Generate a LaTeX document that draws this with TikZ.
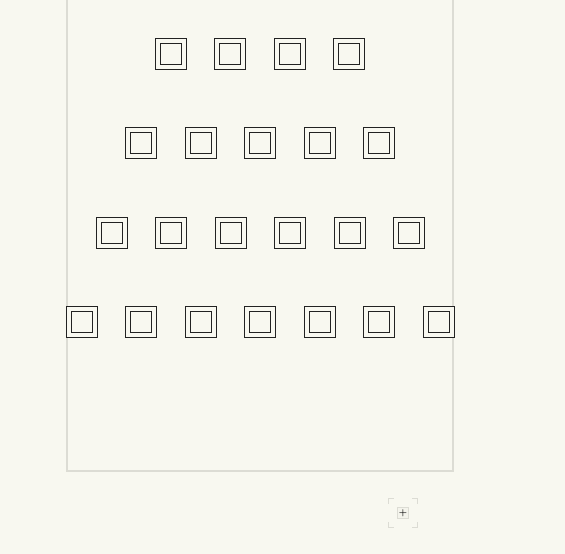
\documentclass[tikz,border=0pt]{standalone}
\usepackage{tikz}
\usetikzlibrary{positioning}
\definecolor{pagebg}{HTML}{F8F8F0}
\definecolor{panelline}{HTML}{DCDCD4}
\definecolor{cellline}{HTML}{222222}
\definecolor{btnfill}{HTML}{F4F4EC}

\begin{document}
\begin{tikzpicture}[
  x=1pt, y=-1pt,
  node distance=33.5pt,
  cell/.style={rectangle, draw=cellline, line width=1pt, double=pagebg, double distance=4pt, minimum size=26pt, inner sep=0pt, outer sep=0pt},
  panel/.style={draw=panelline, line width=2pt},
  cornermark/.style={draw=panelline, line width=1pt},
  zoombtn/.style={rectangle, draw=panelline, fill=btnfill, minimum size=11pt, inner sep=0pt, font=\fontsize{9}{9}\selectfont\bfseries, text=black},
]
  \useasboundingbox[fill=pagebg] (0,0) rectangle (565,554);

  % panel
  \draw[panel] (67,0) -- (67,471) -- (453,471) -- (453,0);

  % row 1
  \node[cell] (r1c1) at (170.5,53.5) {};
  \node[cell, right=of r1c1] (r1c2) {};
  \node[cell, right=of r1c2] (r1c3) {};
  \node[cell, right=of r1c3] (r1c4) {};

  % row 2
  \node[cell] (r2c1) at (141,143) {};
  \node[cell, right=of r2c1] (r2c2) {};
  \node[cell, right=of r2c2] (r2c3) {};
  \node[cell, right=of r2c3] (r2c4) {};
  \node[cell, right=of r2c4] (r2c5) {};

  % row 3
  \node[cell] (r3c1) at (111.5,232.5) {};
  \node[cell, right=of r3c1] (r3c2) {};
  \node[cell, right=of r3c2] (r3c3) {};
  \node[cell, right=of r3c3] (r3c4) {};
  \node[cell, right=of r3c4] (r3c5) {};
  \node[cell, right=of r3c5] (r3c6) {};

  % row 4
  \node[cell] (r4c1) at (81.5,322) {};
  \node[cell, right=of r4c1] (r4c2) {};
  \node[cell, right=of r4c2] (r4c3) {};
  \node[cell, right=of r4c3] (r4c4) {};
  \node[cell, right=of r4c4] (r4c5) {};
  \node[cell, right=of r4c5] (r4c6) {};
  \node[cell, right=of r4c6] (r4c7) {};

  % zoom button
  \node[minimum size=28pt, inner sep=0pt] (frame) at (403,513) {};
  \node[zoombtn] (plus) at (frame.center) {+};
  \draw[cornermark] ([yshift=-5pt]frame.north west) -- (frame.north west) -- ([xshift=5pt]frame.north west);
  \draw[cornermark] ([yshift=-5pt]frame.north east) -- (frame.north east) -- ([xshift=-5pt]frame.north east);
  \draw[cornermark] ([yshift=5pt]frame.south west) -- (frame.south west) -- ([xshift=5pt]frame.south west);
  \draw[cornermark] ([yshift=5pt]frame.south east) -- (frame.south east) -- ([xshift=-5pt]frame.south east);
\end{tikzpicture}
\end{document}
